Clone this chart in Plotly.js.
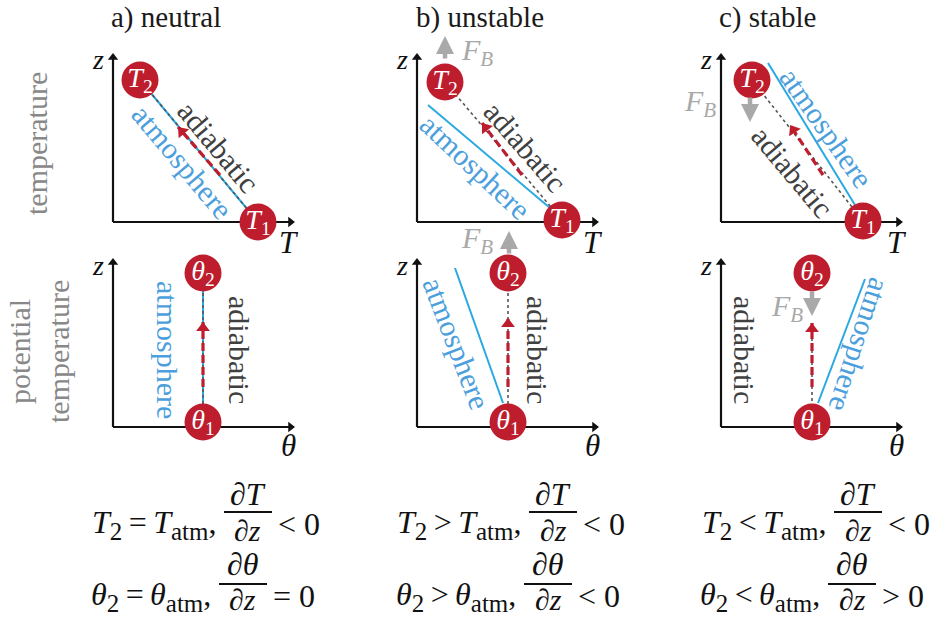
<!DOCTYPE html>
<html><head><meta charset="utf-8">
<script src="https://cdn.plot.ly/plotly-3.0.1.min.js"></script>
<style>body{margin:0;background:#fff}</style></head>
<body><div id="chart" style="width:945px;height:618px"></div>
<script>
// ---------- data (panel units: px from each panel's axis origin, z upward) ----------
const titles = ['a) neutral', 'b) unstable', 'c) stable'];
const rowLabels = ['temperature', 'potential<br>temperature'];
// top row: T-z diagrams
const T1pos = [[145, 0], [145, 2], [142, 1]];
const T2pos = [[27, 142], [28, 140], [31, 142]];
const atmTopStart = [[145, 0], [133, 14], [134, 17]];
const atmTopEnd = [[27, 142], [11, 117], [47, 159]];
const adiaTopStart = [[145, 0], [145, 2], [142, 1]];
const adiaTopEnd = [[27, 142], [28, 140], [31, 142]];
const parcelTopFrom = [[107, 47], [105, 47], [102, 47]];
const parcelTopTo = [[65, 95], [65, 99], [69, 97]];
// bottom row: theta-z diagrams
const th1pos = [[90, 5], [91, 5], [91, 5]];
const th2pos = [[90, 154], [91, 154], [91, 154]];
const atmBotStart = [[90, 5], [86, 24], [97, 24]];
const atmBotEnd = [[90, 154], [38, 159], [144, 148]];
const adiaBotStart = [[90, 5], [91, 5], [91, 20]];
const adiaBotEnd = [[90, 154], [91, 154], [91, 100]];
const parcelBotFrom = [[90, 40], [91, 40], [91, 40]];
const parcelBotTo = [[90, 105], [91, 109], [91, 104]];
// buoyancy force arrows
const fbPanels = [1, 2, 4, 5];
const fbTail = [[28, 162], [29, 126], [92, 172], [91, 137]];
const fbTip = [[28, 186], [29, 100], [92, 196], [91, 111]];
const fbLabel = [[60, 170], [-21, 119], [60, 187], [66, 119]];
// label positions / angles
const adiaLabelPos = [[105, 75], [108, 75], [71, 50], [127, 77], [121, 77], [24, 77]];
const adiaLabelAng = [50, 49, 50, 90, 90, 90];
const atmLabelPos = [[69, 60], [58, 55], [105, 94], [55, 77], [40, 84], [139, 82]];
const atmLabelAng = [50, 43, 55, 90, 69, 108];
// equations
const SUB = s => '<sub><span style="font-size:25px">' + s + '</span></sub>';
const eqLeft1 = ['<i>T</i>' + SUB('2') + '\u2009=\u2009<i>T</i>' + SUB('atm') + ',',
                 '<i>T</i>' + SUB('2') + '\u2009&gt;\u2009<i>T</i>' + SUB('atm') + ',',
                 '<i>T</i>' + SUB('2') + '\u2009&lt;\u2009<i>T</i>' + SUB('atm') + ','];
const eqRight1 = ['&lt; 0', '&lt; 0', '&lt; 0'];
const eqLeft2 = ['<i>θ</i>' + SUB('2') + '\u2009=\u2009<i>θ</i>' + SUB('atm') + ',',
                 '<i>θ</i>' + SUB('2') + '\u2009&gt;\u2009<i>θ</i>' + SUB('atm') + ',',
                 '<i>θ</i>' + SUB('2') + '\u2009&lt;\u2009<i>θ</i>' + SUB('atm') + ','];
const eqRight2 = ['= 0', '&lt; 0', '&gt; 0'];
const eqNum = ['∂<i>T</i>', '∂<i>θ</i>'];
const eqDen = ['∂<i>z</i>', '∂<i>z</i>'];

// ---------- layout helpers ----------
const W = 945, H = 618;
const RED = '#bd1d2d', BLUE = '#29a9e1', BLUE_T = '#4c9fdc', GRAY_T = '#404040', FB = '#a9a9a9';
const SERIF = 'Liberation Serif, serif';
const originsX = [113, 417, 721];
const originsY = [222, 427];
const XR = [-45, 200], YR = [-35, 205];
const axLenX = 182, axLenY = 169;
const titleX = [166, 480, 767];
const fracX1 = [248, 553, 858];
const fracX2 = [243, 548, 852];

const layout = {
  width: W, height: H, margin: {l: 0, r: 0, t: 0, b: 0},
  paper_bgcolor: '#fff', plot_bgcolor: 'rgba(0,0,0,0)', showlegend: false,
  annotations: [], shapes: []
};
const traces = [];
const px = v => v / W, py = v => 1 - v / H;
function axName(p) { return p === 0 ? '' : String(p + 1); }

for (let p = 0; p < 6; p++) {
  const col = p % 3, row = Math.floor(p / 3);
  const ox = originsX[col], oy = originsY[row];
  const n = axName(p);
  layout['xaxis' + n] = {domain: [px(ox + XR[0]), px(ox + XR[1])], range: XR, visible: false, fixedrange: true, anchor: 'y' + n};
  layout['yaxis' + n] = {domain: [py(oy - YR[0]), py(oy - YR[1])], range: YR, visible: false, fixedrange: true, anchor: 'x' + n};
}

function line(p, a, b, color, width, dash) {
  const n = axName(p);
  traces.push({x: [a[0], b[0]], y: [a[1], b[1]], xaxis: 'x' + n, yaxis: 'y' + n,
    mode: 'lines', cliponaxis: false, hoverinfo: 'skip',
    line: {color: color, width: width, dash: dash || 'solid'}});
}
// arrow head: a triangle at the end point, turned along the segment (1 data unit = 1 px on both axes)
function head(p, a, b, color, size, len) {
  const n = axName(p);
  const dx = b[0] - a[0], dy = b[1] - a[1], L = Math.hypot(dx, dy);
  const ang = Math.atan2(dx, dy) * 180 / Math.PI;
  // triangle-up centroid sits r/4 below its centre; shift back so the tip lands on b
  const back = len;
  const c = [b[0] - dx / L * back, b[1] - dy / L * back];
  traces.push({x: [c[0]], y: [c[1]], xaxis: 'x' + n, yaxis: 'y' + n,
    mode: 'markers', cliponaxis: false, hoverinfo: 'skip',
    marker: {symbol: 'triangle-up', size: size, angle: ang, color: color, line: {width: 0}}});
}
function text(p, pos, txt, ang, color, size) {
  const n = axName(p);
  layout.annotations.push({xref: 'x' + n, yref: 'y' + n, x: pos[0], y: pos[1], xanchor: 'center', yanchor: 'middle',
    text: txt, showarrow: false, textangle: ang, font: {family: SERIF, size: size, color: color}});
}
function paperText(x, y, txt, ang, color, size) {
  layout.annotations.push({xref: 'paper', yref: 'paper', x: px(x), y: py(y), xanchor: 'center', yanchor: 'middle',
    text: txt, showarrow: false, textangle: ang, font: {family: SERIF, size: size, color: color}});
}

// axes
for (let p = 0; p < 6; p++) {
  line(p, [0, 0], [axLenX - 4, 0], '#111', 2.2);
  line(p, [0, 0], [0, axLenY - 4], '#111', 2.2);
  head(p, [0, 0], [axLenX, 0], '#111', 9, 4.5);
  head(p, [0, 0], [0, axLenY], '#111', 9, 4.5);
  text(p, [-15, 162], '<i>z</i>', 0, '#111', 28);
  text(p, p < 3 ? [176, -21] : [175, -18], p < 3 ? '<i>T</i>' : '<i>θ</i>', 0, '#111', 31);
}

// profiles and parcel paths
for (let c = 0; c < 3; c++) {
  line(c, atmTopStart[c], atmTopEnd[c], BLUE, 2);
  line(c, adiaTopStart[c], adiaTopEnd[c], '#555', 1.6, '3px,3px');
  line(c, parcelTopFrom[c], parcelTopTo[c], RED, 3.2, '8px,4px');
  head(c, parcelTopFrom[c], parcelTopTo[c], RED, 12, 6);
  line(c + 3, atmBotStart[c], atmBotEnd[c], BLUE, 2);
  line(c + 3, adiaBotStart[c], adiaBotEnd[c], '#555', 1.6, '3px,3px');
  line(c + 3, parcelBotFrom[c], parcelBotTo[c], RED, 3.2, '8px,4px');
  head(c + 3, parcelBotFrom[c], parcelBotTo[c], RED, 12, 6);
}
// parcels
for (let c = 0; c < 6; c++) {
  const top = c < 3, i = c % 3, n = axName(c);
  const pts = top ? [T1pos[i], T2pos[i]] : [th1pos[i], th2pos[i]];
  const sym = top ? 'T' : 'θ';
  traces.push({x: pts.map(d => d[0]), y: pts.map(d => d[1]), xaxis: 'x' + n, yaxis: 'y' + n,
    mode: 'markers+text', cliponaxis: false, hoverinfo: 'skip',
    marker: {size: 37, color: RED, line: {width: 0}},
    text: ['<i>' + sym + '</i><sub>1</sub>', '<i>' + sym + '</i><sub>2</sub>'],
    textposition: 'middle center', textfont: {family: SERIF, size: 28, color: '#fff'}});
}
// labels on lines
for (let p = 0; p < 6; p++) {
  text(p, adiaLabelPos[p], 'adiabatic', adiaLabelAng[p], GRAY_T, 30);
  text(p, atmLabelPos[p], 'atmosphere', atmLabelAng[p], BLUE_T, 30);
}
// buoyancy arrows
fbPanels.forEach((p, k) => {
  const n = axName(p);
  layout.annotations.push({xref: 'x' + n, yref: 'y' + n, axref: 'x' + n, ayref: 'y' + n,
    x: fbTip[k][0], y: fbTip[k][1], ax: fbTail[k][0], ay: fbTail[k][1], text: '', showarrow: true,
    arrowhead: 2, arrowsize: 0.8, arrowwidth: 4.5, arrowcolor: FB});
  text(p, fbLabel[k], '<i>F</i><sub><i>B</i></sub>', 0, FB, 30);
});
// titles and row labels
titles.forEach((t, c) => paperText(titleX[c], 18, t, 0, '#1a1a1a', 29));
paperText(36, 144, rowLabels[0], -90, '#888', 30);
paperText(39, 352, rowLabels[1], -90, '#888', 30);

// equations
function eq(xc, yBar, yMain, yNum, yDen, left, num, den, right) {
  const f = {family: SERIF, size: 32, color: '#111'};
  const add = (x, y, xa, t, fs) => layout.annotations.push({xref: 'paper', yref: 'paper', x: px(x), y: py(y),
    xanchor: xa, yanchor: 'middle', text: t, showarrow: false, font: Object.assign({}, f, fs ? {size: fs} : {})});
  add(xc - 30, yMain, 'right', left);
  add(xc, yNum, 'center', num);
  add(xc, yDen, 'center', den, 30);
  add(xc + 28, yMain, 'left', right);
  layout.shapes.push({type: 'line', xref: 'paper', yref: 'paper', x0: px(xc - 24), x1: px(xc + 24), y0: py(yBar), y1: py(yBar), line: {color: '#111', width: 2}});
}
for (let c = 0; c < 3; c++) {
  eq(fracX1[c], 512, 524, 494, 530, eqLeft1[c], eqNum[0], eqDen[0], eqRight1[c]);
  eq(fracX2[c], 584, 596, 564, 599, eqLeft2[c], eqNum[1], eqDen[1], eqRight2[c]);
}

Plotly.newPlot('chart', traces, layout, {staticPlot: true, displayModeBar: false});
</script></body></html>
